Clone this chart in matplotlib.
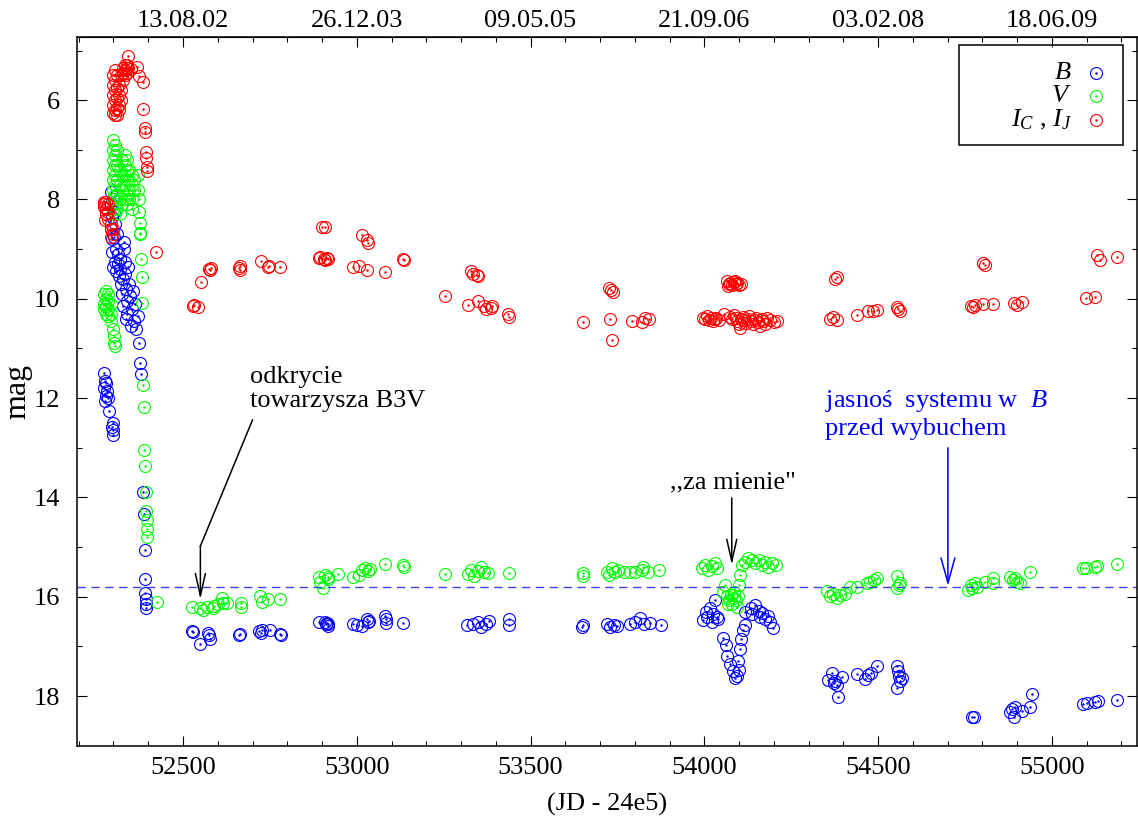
import matplotlib
matplotlib.use('Agg')
import matplotlib.pyplot as plt
from matplotlib.patches import Rectangle

plt.rcParams['font.family'] = ['Liberation Serif', 'DejaVu Serif']
plt.rcParams['mathtext.fontset'] = 'custom'
plt.rcParams['mathtext.rm'] = 'Liberation Serif'
plt.rcParams['mathtext.it'] = 'Liberation Serif:italic'

# fotometria B
b_jd = [52292, 52294, 52296, 52293, 52297, 52295, 52300, 52302, 52304, 52301, 52306, 52303, 52308, 52299, 52310, 52312, 52314, 52316, 52318,
        52320, 52322, 52325, 52328, 52330, 52332, 52334, 52336, 52338, 52340, 52326, 52342, 52329, 52335,
        52346, 52348, 52352, 52355, 52358, 52362, 52366, 52370, 52372, 52350,
        52375, 52378, 52386, 52387, 52390, 52392, 52392, 52393, 52393, 52394,
        52274, 52276, 52273, 52279, 52278, 52282, 52275, 52284, 52288, 52298, 52299, 52300, 52297,
        52527, 52530, 52550, 52573, 52576, 52578, 52660, 52665, 52720, 52723, 52728, 52749, 52780, 52783,
        52890, 52908, 52911, 52914, 52916, 52918, 52990, 53000, 53016, 53030, 53033, 53036, 53082, 53083, 53084, 53134,
        53318, 53335, 53350, 53358, 53373, 53381, 53439, 53439,
        53652, 53648, 53720, 53728, 53740, 53748, 53785, 53800, 53815, 53826, 53845, 53874,
        53997, 54008, 54017, 54026, 54037, 54031, 54005, 54022, 54040,
        54055, 54061, 54066, 54075, 54083, 54089, 54095, 54101, 54098, 54104, 54107, 54112, 54118,
        54118, 54133, 54138, 54147, 54156, 54160, 54167, 54176, 54184, 54190, 54199,
        54357, 54367, 54376, 54382, 54397, 54372, 54385,
        54440, 54463, 54472, 54481, 54498, 54555, 54558, 54561, 54564, 54555, 54570,
        54771, 54777, 54880, 54886, 54890, 54895, 54914, 54938, 54944,
        55090, 55102, 55125, 55134, 55188]
b_mag = [7.85, 8.1, 8.35, 8.6, 8.8, 9.05, 8.0, 8.25, 8.5, 8.75, 9.0, 9.25, 9.45, 9.35, 8.7, 9.1, 9.3, 9.55, 9.2,
         9.4, 9.7, 9.9, 9.6, 9.0, 9.25, 9.5, 9.8, 10.05, 10.3, 10.15, 9.35, 8.85, 10.4,
         9.7, 9.95, 10.2, 9.85, 10.45, 10.1, 10.6, 10.35, 10.9, 10.55,
         11.3, 11.52, 13.9, 14.33, 15.05, 15.65, 15.92, 16.05, 16.15, 16.22,
         11.5, 11.65, 11.8, 11.7, 11.95, 11.85, 12.05, 12.0, 12.25, 12.5, 12.65, 12.75, 12.58,
         16.69, 16.72, 16.95, 16.73, 16.78, 16.85, 16.77, 16.75, 16.7, 16.74, 16.68, 16.67, 16.75, 16.77,
         16.5, 16.5, 16.55, 16.52, 16.58, 16.55, 16.55, 16.57, 16.58, 16.45, 16.5, 16.48, 16.38, 16.45, 16.52, 16.52,
         16.57, 16.55, 16.51, 16.6, 16.55, 16.49, 16.45, 16.57,
         16.56, 16.6, 16.55, 16.6, 16.57, 16.58, 16.55, 16.5, 16.42, 16.55, 16.53, 16.57,
         16.47, 16.41, 16.23, 16.35, 16.41, 16.07, 16.3, 16.5, 16.44,
         16.83, 16.97, 17.2, 17.35, 17.5, 17.63, 17.6, 17.48, 17.3, 17.06, 16.86, 16.66, 16.57,
         16.3, 16.23, 16.35, 16.17, 16.28, 16.4, 16.32, 16.45, 16.38, 16.5, 16.63,
         17.67, 17.54, 17.7, 17.78, 17.62, 17.73, 18.02,
         17.55, 17.66, 17.57, 17.54, 17.39, 17.39, 17.49, 17.59, 17.7, 17.84, 17.63,
         18.43, 18.43, 18.32, 18.26, 18.42, 18.22, 18.3, 18.22, 17.96,
         18.16, 18.14, 18.12, 18.1, 18.08]

# fotometria V
v_jd = [52300, 52300, 52300, 52300, 52300, 52300, 52300, 52300,
        52305, 52305, 52305, 52305, 52305, 52305, 52305, 52305,
        52310, 52310, 52310, 52310, 52310, 52318, 52318, 52318, 52318,
        52325, 52325, 52325, 52325, 52332, 52332, 52332, 52332, 52332,
        52338, 52338, 52338, 52338, 52338, 52345, 52345, 52345, 52345,
        52352, 52352, 52352, 52352, 52360, 52360,
        52370, 52371, 52372, 52373, 52375, 52376, 52377, 52379, 52381, 52383,
        52386, 52387, 52389, 52391, 52393, 52394, 52395, 52396, 52397, 52426,
        52272, 52272, 52272, 52278, 52278, 52278, 52278, 52285, 52285, 52285, 52285,
        52292, 52292, 52292, 52300, 52301, 52302, 52303,
        52527, 52550, 52570, 52588, 52602, 52613, 52616, 52627, 52558, 52585, 52666, 52668, 52722, 52728, 52745, 52780,
        52890, 52895, 52910, 52916, 52918, 52904, 52947,
        52990, 53005, 53016, 53025, 53033, 53039, 53082, 53134, 53135, 53255,
        53321, 53330, 53338, 53350, 53358, 53367, 53378, 53437,
        53652, 53652, 53721, 53727, 53735, 53744, 53753, 53768, 53787, 53802, 53822, 53825, 53839, 53871,
        53994, 54002, 54011, 54022, 54031, 54037,
        54109, 54118, 54127, 54138, 54147, 54156, 54167, 54176, 54184, 54196, 54205,
        54104, 54099, 54060,
        54055, 54064, 54072, 54081, 54090, 54098, 54078, 54086, 54069, 54093, 54084,
        54354, 54362, 54371, 54382, 54391, 54406, 54420, 54440, 54469, 54478, 54489, 54498, 54555, 54564, 54555, 54560,
        54760, 54766, 54771, 54780, 54786, 54808, 54832, 54832, 54880, 54889, 54895, 54900, 54909, 54938,
        55090, 55099, 55125, 55130, 55188]
v_mag = [6.8, 7.0, 7.2, 7.4, 7.6, 7.8, 8.0, 8.2,
         6.9, 7.1, 7.3, 7.5, 7.7, 7.9, 8.1, 8.3,
         7.0, 7.3, 7.6, 7.9, 8.2, 7.4, 7.7, 8.0, 8.3,
         7.2, 7.5, 7.8, 8.1, 7.1, 7.3, 7.5, 7.7, 8.0,
         7.2, 7.4, 7.6, 7.9, 8.1, 7.4, 7.6, 7.8, 8.0,
         7.5, 7.7, 8.0, 8.2, 7.6, 7.8,
         7.5, 7.8, 8.0, 8.25, 8.47, 8.67, 8.7, 9.2, 9.56, 10.08,
         11.74, 12.18, 13.05, 13.37, 13.9, 14.27, 14.45, 14.63, 14.8, 16.1,
         9.9, 10.1, 10.2, 9.85, 10.0, 10.15, 10.3, 9.9, 10.05, 10.2, 10.35,
         10.1, 10.3, 10.45, 10.6, 10.75, 10.9, 10.95,
         16.2, 16.23, 16.2, 16.18, 16.15, 16.03, 16.13, 16.13, 16.26, 16.23, 16.13, 16.2, 15.99, 16.1, 16.05, 16.05,
         15.6, 15.7, 15.56, 15.6, 15.64, 15.83, 15.55,
         15.6, 15.56, 15.46, 15.42, 15.48, 15.44, 15.34, 15.36, 15.4, 15.55,
         15.55, 15.46, 15.59, 15.48, 15.4, 15.5, 15.52, 15.52,
         15.52, 15.58, 15.5, 15.56, 15.42, 15.5, 15.46, 15.5, 15.5, 15.5, 15.46, 15.4, 15.5, 15.46,
         15.42, 15.36, 15.46, 15.38, 15.32, 15.42,
         15.36, 15.3, 15.22, 15.26, 15.32, 15.26, 15.36, 15.3, 15.4, 15.32, 15.36,
         15.57, 15.77, 15.77,
         15.9, 15.98, 16.07, 16.15, 16.07, 15.98, 15.96, 15.9, 16.15, 16.2, 16.02,
         15.88, 15.98, 15.94, 16.02, 15.96, 15.94, 15.8, 15.8, 15.72, 15.7, 15.66, 15.62, 15.58, 15.72, 15.82, 15.76,
         15.86, 15.76, 15.82, 15.72, 15.8, 15.7, 15.62, 15.72, 15.6, 15.66, 15.62, 15.7, 15.72, 15.5,
         15.43, 15.43, 15.4, 15.38, 15.34]

# fotometria I_C, I_J
i_jd = [52300, 52300, 52300, 52300, 52300, 52305, 52305, 52305, 52305, 52305, 52305,
        52310, 52310, 52310, 52310, 52310, 52316, 52316, 52316, 52316, 52322, 52322, 52322,
        52328, 52328, 52328, 52333, 52333, 52333, 52338, 52338, 52338, 52342, 52342, 52350,
        52368, 52374, 52385, 52385, 52390, 52391, 52393, 52394, 52395, 52396,
        52272, 52272, 52272, 52277, 52278, 52278, 52278, 52284, 52284, 52284, 52292, 52292, 52292, 52300, 52300,
        52423,
        52530, 52533, 52544, 52553, 52576, 52578, 52580, 52662, 52663, 52664, 52725, 52745, 52748, 52780,
        52901, 52910, 52890, 52895, 52905, 52910, 52914, 52918, 52990, 53005, 53016, 53028, 53033, 53028, 53082, 53134, 53136, 53255,
        53321, 53330, 53335, 53345, 53350, 53350, 53365, 53372, 53385, 53390, 53436, 53438,
        53652, 53727, 53732, 53738, 53729, 53733, 53793, 53822, 53828, 53842,
        53997, 54002, 54008, 54013, 54018, 54025, 54030, 54035, 54042, 54058, 54075, 54080, 54085, 54090, 54095,
        54100, 54105, 54110, 54115, 54120, 54125, 54130, 54135, 54140, 54145, 54150, 54155, 54160, 54165, 54170,
        54175, 54180, 54190, 54200, 54210, 54103,
        54065, 54070, 54075, 54080, 54085, 54090, 54095, 54100, 54105, 54068, 54088,
        54382, 54377, 54371, 54362, 54382, 54440, 54472, 54498, 54485, 54555, 54564, 54558,
        54809, 54803, 54774, 54766, 54780, 54803, 54832, 54890, 54900, 54914,
        55099, 55125, 55130, 55139, 55188]
i_mag = [5.5, 5.7, 5.9, 6.1, 6.25, 5.4, 5.6, 5.8, 6.0, 6.2, 6.3,
         5.5, 5.75, 5.95, 6.15, 6.3, 5.7, 5.9, 6.1, 6.2, 5.5, 5.8, 6.0,
         5.35, 5.45, 5.6, 5.3, 5.4, 5.5, 5.3, 5.35, 5.45, 5.12, 5.35, 5.38,
         5.34, 5.52, 5.64, 6.18, 6.56, 6.65, 7.04, 7.17, 7.35, 7.42,
         8.05, 8.1, 8.15, 8.42, 8.05, 8.2, 8.3, 8.1, 8.25, 8.4, 8.5, 8.6, 8.75, 8.6, 8.7,
         9.06,
         10.15, 10.12, 10.17, 9.66, 9.4, 9.43, 9.38, 9.37, 9.33, 9.42, 9.24, 9.36, 9.33, 9.36,
         8.56, 8.56, 9.18, 9.15, 9.2, 9.22, 9.18, 9.2, 9.36, 9.33, 8.72, 8.82, 8.88, 9.42, 9.46, 9.2, 9.22, 9.95,
         10.13, 9.45, 9.5, 9.52, 9.55, 10.05, 10.15, 10.2, 10.18, 10.15, 10.3, 10.36,
         10.47, 9.78, 9.83, 9.86, 10.4, 10.83, 10.45, 10.47, 10.39, 10.4,
         10.38, 10.4, 10.35, 10.42, 10.38, 10.45, 10.4, 10.38, 10.42, 10.3, 10.36, 10.4, 10.33, 10.38, 10.45,
         10.5, 10.4, 10.36, 10.42, 10.48, 10.4, 10.35, 10.44, 10.5, 10.42, 10.38, 10.46, 10.55, 10.4, 10.44,
         10.5, 10.38, 10.42, 10.46, 10.44, 10.59,
         9.65, 9.7, 9.68, 9.72, 9.66, 9.7, 9.68, 9.72, 9.7, 9.75, 9.64,
         9.56, 9.6, 10.37, 10.4, 10.43, 10.33, 10.25, 10.22, 10.24, 10.16, 10.24, 10.2,
         9.32, 9.28, 10.17, 10.15, 10.12, 10.1, 10.1, 10.08, 10.12, 10.06,
         9.99, 9.96, 9.12, 9.22, 9.16]

# jasność w B przed wybuchem
b_quiet = 15.8

top_ticks = [52500, 53000, 53500, 54000, 54500, 55000]
top_labels = ['13.08.02', '26.12.03', '09.05.05', '21.09.06', '03.02.08', '18.06.09']

fig = plt.figure(figsize=(11.38, 8.25), dpi=100)
ax = fig.add_axes([77 / 1138, 79.3 / 825, 1060 / 1138, 709.1 / 825])

series = [(b_jd, b_mag, '#0000ff'), (v_jd, v_mag, '#00ff00'), (i_jd, i_mag, '#ff0000')]
for jd, mag, c in series:
    ax.plot(jd, mag, 'o', mfc='none', mec=c, ms=8.6, mew=0.8, ls='none')
    ax.plot(jd, mag, '.', color=c, ms=1.5, ls='none')

ax.axhline(b_quiet, color='#4040ff', lw=1.0, dashes=(6, 4))

ax.set_xlim(52195, 55245)
ax.set_ylim(19.0, 4.72)
ax.set_xticks(range(52500, 55001, 500))
ax.set_xticks(range(52200, 55201, 100), minor=True)
ax.set_yticks(range(6, 19, 2))
ax.set_yticks(range(5, 19, 1), minor=True)
ax.tick_params(which='both', direction='in', right=True, top=False, width=0.8)
ax.tick_params(which='major', length=7.5, labelsize=19)
ax.tick_params(axis='x', which='major', pad=8)
ax.tick_params(axis='y', which='major', pad=12)
ax.tick_params(which='minor', length=3.5)
for s in ax.spines.values():
    s.set_linewidth(1.1)

top = ax.secondary_xaxis('top')
top.set_xticks(top_ticks, labels=top_labels)
top.set_xticks(range(52200, 55201, 100), minor=True)
top.tick_params(which='both', direction='in', width=0.8, labelsize=19, pad=3)
top.tick_params(which='major', length=7.5)
top.tick_params(which='minor', length=3.5)

ax.set_xlabel('(JD - 24e5)', fontsize=19, labelpad=10)
ax.set_ylabel('mag', fontsize=23, labelpad=1)

# opisy i strzałki
ax.text(52694, 11.70, 'odkrycie', fontsize=19)
ax.text(52694, 12.18, 'towarzysza B3V', fontsize=19)
ax.plot([52700, 52550], [12.44, 14.98], color='k', lw=1.1)
ax.annotate('', xy=(52550, 16.05), xytext=(52550, 14.98),
            arrowprops=dict(arrowstyle='->,head_length=0.8,head_width=0.18',
                            color='k', lw=1.1, mutation_scale=20, shrinkA=0, shrinkB=0))

ax.text(53902, 13.81, ',,za mienie"', fontsize=19)
ax.annotate('', xy=(54079, 15.36), xytext=(54079, 14.01),
            arrowprops=dict(arrowstyle='->,head_length=0.8,head_width=0.18',
                            color='k', lw=1.1, mutation_scale=20, shrinkA=0, shrinkB=0))

ax.text(54348, 12.18, r'jasnoś  systemu w  $B$', fontsize=19, color='#0000ff')
ax.text(54348, 12.74, 'przed wybuchem', fontsize=19, color='#0000ff')
ax.annotate('', xy=(54701, 15.78), xytext=(54701, 13.0),
            arrowprops=dict(arrowstyle='->,head_length=0.9,head_width=0.25',
                            color='#0000ff', lw=1.1, mutation_scale=20, shrinkA=0, shrinkB=0))

# legenda
ax.add_patch(Rectangle((0.832, 0.847), 0.155, 0.141, transform=ax.transAxes,
                       fill=False, ec='k', lw=1.1, zorder=5))
legend_rows = [('$B$', '#0000ff', 0.9487), ('$V$', '#00ff00', 0.9162),
               ('$I_C$ , $I_J$', '#ff0000', 0.8824)]
for label, c, y in legend_rows:
    ax.text(0.9387, y, label, transform=ax.transAxes, ha='right', va='center', fontsize=19)
    ax.plot([0.961], [y], 'o', mfc='none', mec=c, ms=8.6, mew=0.8, transform=ax.transAxes)
    ax.plot([0.961], [y], '.', color=c, ms=1.5, transform=ax.transAxes)

fig.savefig('out.png', dpi=100)
